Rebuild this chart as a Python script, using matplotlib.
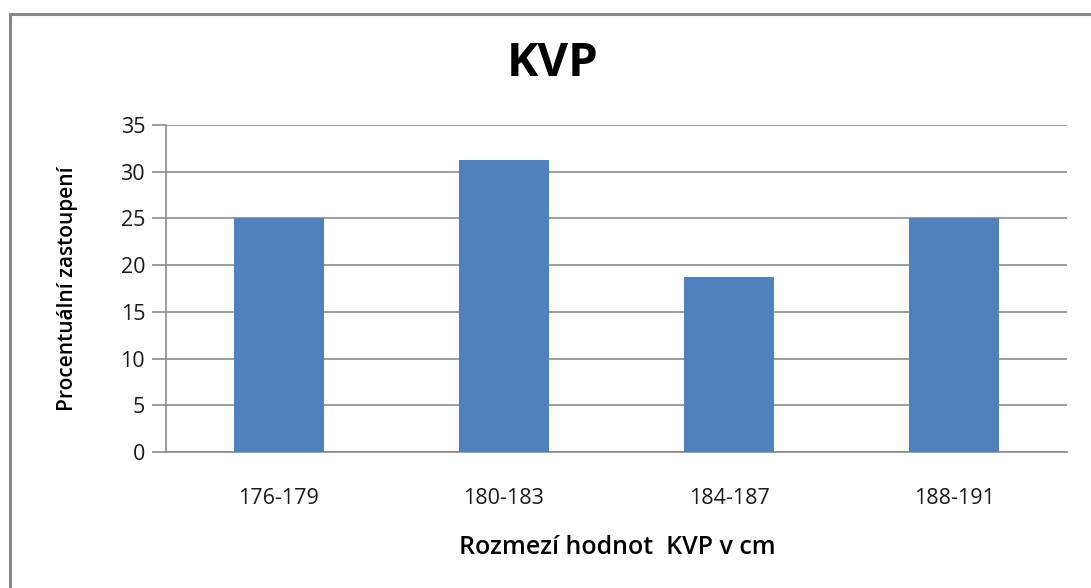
import matplotlib
matplotlib.use("Agg")
import matplotlib.pyplot as plt
from matplotlib.patches import Rectangle

categories = ["176-179", "180-183", "184-187", "188-191"]
values = [25.0, 31.25, 18.75, 25.0]
y_ticks = [0, 5, 10, 15, 20, 25, 30, 35]

plt.rcParams["font.family"] = ["Open Sans", "DejaVu Sans"]

W, H = 1091, 588
fig = plt.figure(figsize=(W / 100, H / 100), dpi=100)
ax = fig.add_axes([166 / W, 1 - 452 / H, (1067 - 166) / W, (452 - 125) / H])

# outer chart border (bottom and right run off the picture)
fig.patches.append(Rectangle((9.5 / W, -0.05), 1.2, 1 - 13.5 / H + 0.05,
                             transform=fig.transFigure, fill=False,
                             edgecolor="#868686", lw=2.2, zorder=0))

x = range(len(categories))
ax.bar(x, values, width=0.4, color="#4f81bd", zorder=3)
ax.set_xlim(-0.5, len(categories) - 0.5)
ax.set_ylim(0, 35)
ax.set_yticks(y_ticks)
ax.set_xticks(list(x))
ax.set_xticklabels(categories)
ax.yaxis.grid(True, color="#8c8c8c", lw=1.2, zorder=0)
ax.set_axisbelow(True)
for s in ("top", "right"):
    ax.spines[s].set_visible(False)
for s in ("left", "bottom"):
    ax.spines[s].set_color("#8c8c8c")
    ax.spines[s].set_linewidth(1.2)
ax.tick_params(axis="y", length=10, width=1.2, color="#8c8c8c", labelsize=15.5,
               pad=5, labelcolor="#1a1a1a")
ax.tick_params(axis="x", length=0, labelsize=15.5, pad=26, labelcolor="#1a1a1a")

fig.text(553 / W, 1 - 64 / H, "KVP", ha="center", va="center",
         fontsize=34, fontweight="bold")
fig.text(617 / W, 1 - 548 / H, "Rozmezí hodnot  KVP v cm", ha="center",
         va="center", fontsize=18, fontweight="semibold")
fig.text(68 / W, 1 - 289 / H, "Procentuální zastoupení", ha="center",
         va="center", rotation=90, fontsize=15, fontweight="semibold")

fig.savefig("out.png", dpi=100)
